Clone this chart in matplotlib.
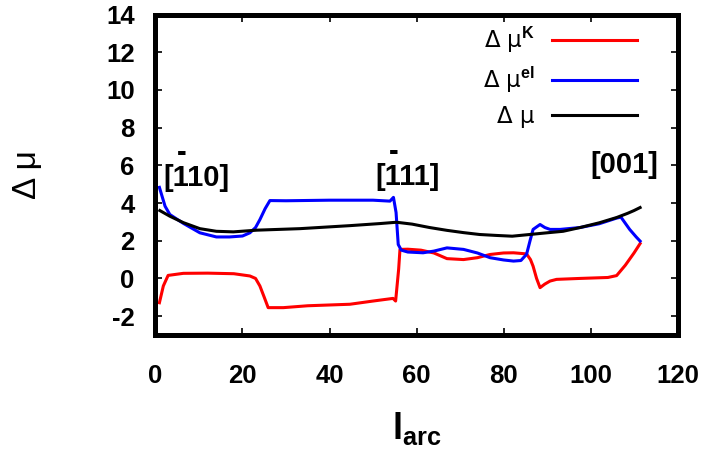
import matplotlib
matplotlib.use('Agg')
import matplotlib.pyplot as plt

plt.rcParams['font.family'] = ['Liberation Sans', 'DejaVu Sans']
plt.rcParams['mathtext.fontset'] = 'custom'
plt.rcParams['mathtext.rm'] = 'Liberation Sans'
plt.rcParams['mathtext.bf'] = 'Liberation Sans:bold'
plt.rcParams['mathtext.it'] = 'Liberation Sans:italic'
plt.rcParams['axes.unicode_minus'] = False

# ---- data ----
x_K = [0.9, 1.8, 2.9, 6.4, 12, 18, 21.7, 23, 24, 25, 25.9, 29.4, 35, 44.7, 50,
       54.6, 55.2, 55.9, 56.2, 58, 61, 64, 67, 70.8, 74, 76.9, 80, 82.3, 85.3,
       86.2, 86.8, 87.6, 88.4, 89.5, 90.7, 92.2, 97.6, 104, 106, 108, 110, 111.4]
dmu_K = [-1.29, -0.4, 0.16, 0.27, 0.28, 0.25, 0.13, 0.0, -0.4, -1.0, -1.55, -1.55,
         -1.45, -1.37, -1.2, -1.06, -1.2, 0.5, 1.54, 1.55, 1.5, 1.35, 1.05, 1.0,
         1.1, 1.27, 1.35, 1.36, 1.3, 1.0, 0.65, 0.0, -0.49, -0.3, -0.14, -0.05,
         0.0, 0.05, 0.15, 0.7, 1.35, 1.85]

x_el = [0.9, 2.2, 3.3, 6.4, 10.2, 14, 17, 20, 21.7, 23, 24, 25.2, 26.3, 30, 40,
        50, 53.9, 54.7, 55.3, 55.8, 56.5, 58, 61.5, 64, 67, 70.8, 74, 76.9, 80,
        82.3, 84, 85.3, 86.1, 86.8, 88.4, 89.5, 90.7, 93, 97.6, 102, 106, 107,
        109, 110.5, 111.4]
dmu_el = [4.83, 3.83, 3.39, 2.92, 2.42, 2.2, 2.2, 2.25, 2.42, 2.7, 3.12, 3.7,
          4.13, 4.12, 4.15, 4.15, 4.1, 4.3, 3.5, 1.8, 1.5, 1.4, 1.36, 1.45, 1.62,
          1.54, 1.35, 1.1, 0.98, 0.92, 0.95, 1.28, 2.0, 2.6, 2.86, 2.7, 2.6, 2.6,
          2.7, 2.9, 3.2, 3.25, 2.6, 2.2, 1.98]

x_tot = [1.0, 3.3, 6.4, 10.2, 14, 17.9, 23.3, 33.2, 44.7, 51.6, 55.4, 59, 63, 67,
         70.8, 74.5, 78.4, 82, 86, 90, 93.7, 97.6, 102, 106, 108.5, 110, 111.4]
dmu_tot = [3.6, 3.3, 2.96, 2.64, 2.5, 2.47, 2.56, 2.64, 2.8, 2.91, 2.98, 2.88,
           2.7, 2.55, 2.43, 2.33, 2.28, 2.24, 2.33, 2.42, 2.5, 2.7, 2.95, 3.23,
           3.45, 3.6, 3.76]

series_labels = [r'Δ μ$^{\mathbf{K}}$', r'Δ μ$^{\mathbf{el}}$', 'Δ μ']
series_colors = ['#ff0000', '#0000ff', '#000000']

x_ticks = [0, 20, 40, 60, 80, 100, 120]
y_ticks = [-2, 0, 2, 4, 6, 8, 10, 12, 14]

# direction labels; the first "1" of the first two carries an overbar
annot_texts = [' \u2009-\n[110]', ' \u2009-\n[111]', '[001]']
annot_x = [9.3, 57.9, 107.7]
annot_y = [4.9, 4.97, 5.6]

# ---- figure ----
fig = plt.figure(figsize=(7.11, 4.59), dpi=100)
ax = fig.add_axes([0.2187, 0.2702, 0.7342, 0.6982])

for xs, ys, lab, col in zip([x_K, x_el, x_tot], [dmu_K, dmu_el, dmu_tot],
                            series_labels, series_colors):
    ax.plot(xs, ys, color=col, lw=2.2, label=lab)

ax.set_xlim(0, 120)
ax.set_ylim(-3, 14)
ax.set_xticks(x_ticks)
ax.set_yticks(y_ticks)
ax.tick_params(direction='in', top=True, right=True, length=5, width=1.2,
               labelsize=18.5)
ax.tick_params(axis='x', pad=21)
ax.tick_params(axis='y', pad=15)
for lbl in ax.get_xticklabels() + ax.get_yticklabels():
    lbl.set_fontweight('bold')
for s in ax.spines.values():
    s.set_linewidth(3.6)

ax.set_ylabel('Δ μ', fontsize=24)
ax.yaxis.set_label_coords(-0.215, 0.5)
ax.set_xlabel(r'l$_{\mathbf{arc}}$', fontsize=26, fontweight='bold')
ax.xaxis.set_label_coords(0.5, -0.235)

for t, xx, yy in zip(annot_texts, annot_x, annot_y):
    ax.text(xx, yy, t, fontsize=21, fontweight='bold', ha='center',
            va='baseline', multialignment='left', linespacing=0.87)

leg = ax.legend(loc='upper right', bbox_to_anchor=(0.922, 0.969), frameon=False,
                markerfirst=False, handlelength=3.7,
                prop={'family': 'DejaVu Sans', 'size': 16.5},
                handletextpad=0.75, labelspacing=0.42, borderpad=0,
                borderaxespad=0)

fig.savefig('out.png', dpi=100)
